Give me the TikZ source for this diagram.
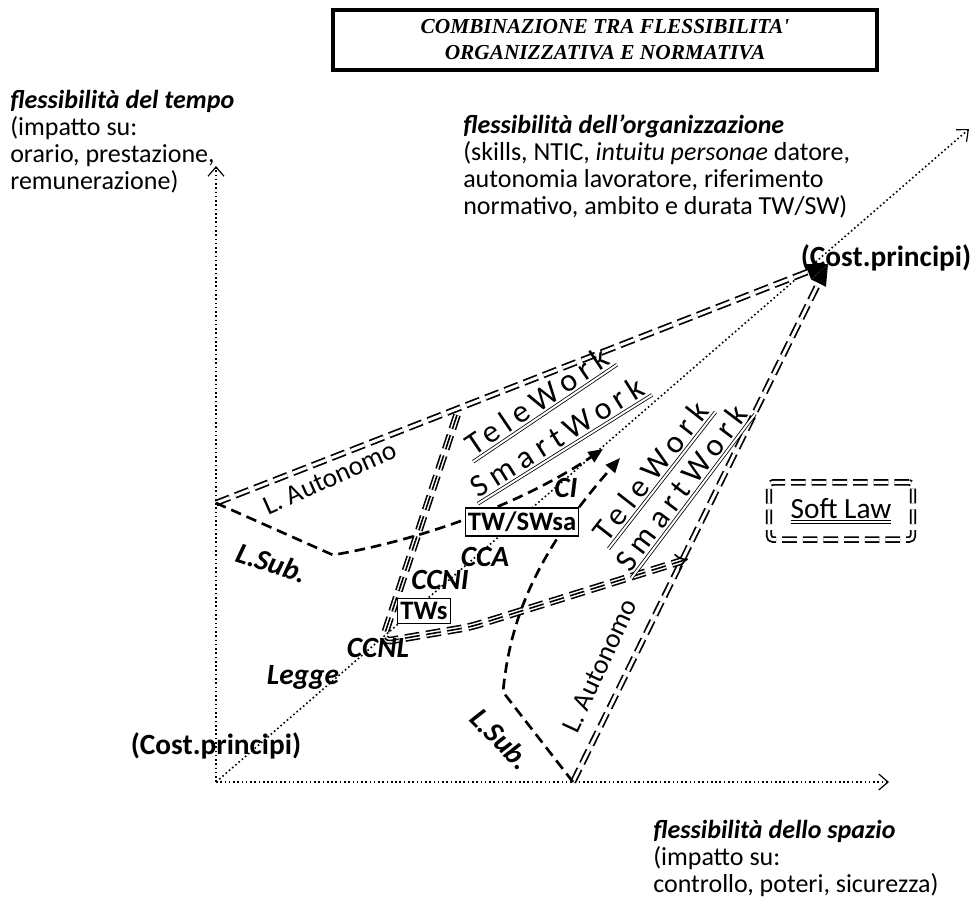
\documentclass[tikz,border=0pt]{standalone}
\usepackage{fontspec}
\setmainfont{Carlito}
\newfontfamily\titlefont{Liberation Serif}
\usetikzlibrary{arrows.meta}

\tikzset{
  axisline/.style={dotted, line width=1.2pt, -{Straight Barb[length=7pt,width=12pt,line width=0.9pt]}},
  dbldash/.style={double, line width=1.3pt, double distance=2.2pt, dash pattern=on 11pt off 4.5pt},
  subdash/.style={line width=2pt, dash pattern=on 8pt off 4.5pt},
  tripdash/.style={double, line width=1.2pt, double distance=3.4pt, dash pattern=on 11pt off 5pt,
    rounded corners=7pt, postaction={draw, -, line width=1.2pt}},
  axistext/.style={font=\fontsize{19.5}{20.25}\selectfont, align=left, inner sep=0pt, anchor=north west},
  costlbl/.style={font=\fontsize{22}{24}\selectfont\bfseries, inner sep=0pt},
  bilbl/.style={font=\fontsize{22}{24}\selectfont\bfseries\itshape, inner sep=0pt},
  rglbl/.style={font=\fontsize{20.5}{22}\selectfont, inner sep=0pt},
  twbox/.style={draw, line width=0.9pt, fill=white, inner xsep=2pt, inner ysep=3pt, font=\fontsize{20}{22}\selectfont\bfseries},
  spaced/.style={font=\fontsize{24}{26}\selectfont\addfontfeature{LetterSpace=20}, inner sep=2.5pt, anchor=base},
  underl/.style={double, line width=0.6pt, double distance=1.5pt}
}

\begin{document}
\begin{tikzpicture}[x=0.75pt, y=-0.75pt]
  \useasboundingbox (0,0) rectangle (979,903);
  % points
  \coordinate (o) at (216,782);
  \coordinate (tempo) at (216,166);
  \coordinate (spazio) at (889,782);
  \coordinate (org) at (969,129);
  \coordinate (lt) at (216,503);
  \coordinate (ls) at (573,782);
  \coordinate (cp) at (828,264);
  \coordinate (ci1) at (603,449);
  \coordinate (ci2) at (620,458);
  \coordinate (tw) at (688,559);
  % axes
  \draw[axisline] (o) -- (tempo);
  \draw[axisline] (o) -- (spazio);
  \draw[axisline] (o) -- (org);
  % lines
  \draw[dbldash, -{Triangle[length=16pt,width=12pt,fill=black]}] (lt) -- (cp);
  \draw[dbldash, -{Triangle[length=16pt,width=12pt,fill=black]}] (ls) -- (cp);
  \draw[subdash, -{Triangle[length=11pt,width=9pt]}] (lt) -- (333,555) .. controls (420,540) and (520,505) .. (ci1);
  \draw[subdash, -{Triangle[length=11pt,width=9pt]}] (ls) -- (503,692) .. controls (510,620) and (535,555) .. (ci2);
  \draw[tripdash, -{Implies}] (457,415) -- (382,642) -- (470,627) -- (tw);
  % title
  \node[draw, line width=3pt, minimum width=408pt, minimum height=45pt, align=center,
    font=\titlefont\fontsize{16}{19.5}\selectfont\bfseries\itshape] (title) at (605,40)
    {COMBINAZIONE TRA FLESSIBILITA'\\ORGANIZZATIVA E NORMATIVA};
  % axis texts
  \node[axistext] (tt) at (10,90) {\textbf{\textit{flessibilità del tempo}}\\(impatto su:\\orario, prestazione,\\remunerazione)};
  \node[axistext] (ot) at (463,115) {\textbf{\textit{flessibilità dell'organizzazione}}\\(skills, NTIC, \textit{intuitu personae} datore,\\autonomia lavoratore, riferimento\\normativo, ambito e durata TW/SW)};
  \node[axistext] (st) at (653,820) {\textbf{\textit{flessibilità dello spazio}}\\(impatto su:\\controllo, poteri, sicurezza)};
  \node[costlbl] (cp1) at (886,258) {(Cost.principi)};
  \node[costlbl] (cp0) at (216,746) {(Cost.principi)};
  % labels
  \node[bilbl] (legge) at (303,677) {Legge};
  \node[bilbl] (ccnl) at (378,648) {CCNL};
  \node[bilbl] (ccni) at (440,580) {CCNI};
  \node[bilbl] (cca) at (485,557) {CCA};
  \node[bilbl] (ci) at (566,488) {CI};
  \node[bilbl, rotate=-18] (lsub1) at (272,563) {L.Sub.};
  \node[bilbl, rotate=-45] (lsub2) at (501,739) {L.Sub.};
  \node[rglbl, rotate=24] (laut1) at (330,478) {L. Autonomo};
  \node[rglbl, rotate=65] (laut2) at (600,666) {L. Autonomo};
  \node[twbox] (tws) at (424,611) {TWs};
  \node[twbox] (twsa) at (522,522) {TW/SWsa};
  \node[spaced, rotate=34] (tw1) at (543,410) {TeleWork};
  \node[spaced, rotate=32] (sw1) at (563,446) {SmartWork};
  \node[spaced, rotate=52] (tw2) at (659,478) {TeleWork};
  \node[spaced, rotate=53] (sw2) at (690,494) {SmartWork};
  \draw[underl] (tw1.south west) -- (tw1.south east);
  \draw[underl] (sw1.south west) -- (sw1.south east);
  \draw[underl] (tw2.south west) -- (tw2.south east);
  \draw[underl] (sw2.south west) -- (sw2.south east);
  \node[draw, dbldash, rounded corners=3pt, minimum width=108pt, minimum height=43pt,
    font=\fontsize{22}{24}\selectfont] (soft) at (841,511) {\underline{\underline{Soft Law}}};
\end{tikzpicture}
\end{document}
